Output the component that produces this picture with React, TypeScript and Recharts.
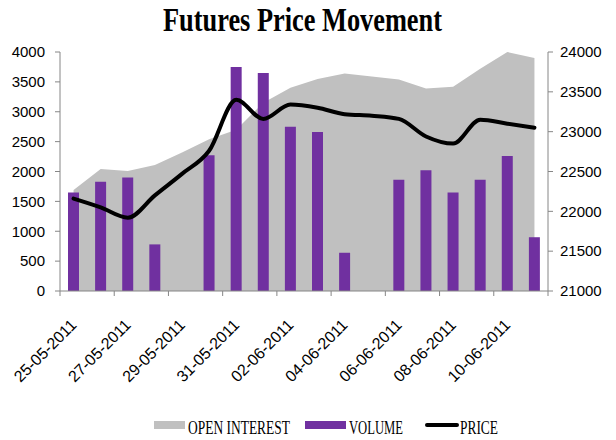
import React from 'react';
import { ComposedChart, Area, Bar, Line, XAxis, YAxis } from 'recharts';

const dates = [
  '25-05-2011', '26-05-2011', '27-05-2011', '28-05-2011', '29-05-2011', '30-05-2011',
  '31-05-2011', '01-06-2011', '02-06-2011', '03-06-2011', '04-06-2011', '05-06-2011',
  '06-06-2011', '07-06-2011', '08-06-2011', '09-06-2011', '10-06-2011', '11-06-2011',
];
const volume = [1650, 1830, 1900, 780, null, 2270, 3750, 3650, 2750, 2660, 640, null, 1860, 2020, 1650, 1860, 2260, 900];
const openInterest = [1690, 2040, 2010, 2110, 2320, 2540, 2700, 3150, 3400, 3550, 3640, 3590, 3540, 3390, 3420, 3720, 4000, 3900];
const price = [22160, 22050, 21920, 22200, 22470, 22760, 23400, 23160, 23340, 23300, 23220, 23200, 23160, 22940, 22850, 23150, 23100, 23050];

const leftTicks = [0, 500, 1000, 1500, 2000, 2500, 3000, 3500, 4000];
const rightTicks = [21000, 21500, 22000, 22500, 23000, 23500, 24000];

const data = dates.map((d, i) => ({
  date: d,
  volume: volume[i],
  oi: openInterest[i],
  price: price[i],
}));

const W = 616;
const H = 440;
const PLOT_W = 488;
const BAND = PLOT_W / dates.length;
const AXIS_COLOR = '#868686';
const TICK_FONT = '"Liberation Sans", Arial, sans-serif';
const SERIF = '"Liberation Serif", "Times New Roman", serif';

const DateTick = (props: any) => {
  const { x, y, payload, index } = props;
  const isLast = payload.index === dates.length - 2 || index === Math.floor((dates.length - 1) / 2);
  return (
    <g>
      <line x1={x - BAND / 2} y1={y} x2={x - BAND / 2} y2={y + 5} stroke={AXIS_COLOR} strokeWidth={1} />
      {isLast && (
        <line x1={x + BAND * 1.5} y1={y} x2={x + BAND * 1.5} y2={y + 5} stroke={AXIS_COLOR} strokeWidth={1} />
      )}
      <text
        x={0}
        y={0}
        transform={`translate(${x + 4},${y + 35}) rotate(-45)`}
        textAnchor="end"
        fontFamily={TICK_FONT}
        fontSize={16}
        fill="#000"
      >
        {payload.value}
      </text>
    </g>
  );
};

export default function App() {
  return (
    <div style={{ position: 'absolute', left: 0, top: 0, width: W, height: H, background: '#fff' }}>
      <ComposedChart
        width={W}
        height={H}
        data={data}
        margin={{ top: 52, right: 0, bottom: 49, left: 0 }}
      >
        <XAxis
          dataKey="date"
          interval={1}
          tickLine={false}
          tickSize={0}
          tickMargin={0}
          axisLine={{ stroke: AXIS_COLOR }}
          tick={<DateTick />}
          height={100}
        />
        <YAxis
          yAxisId="left"
          orientation="left"
          domain={[0, 4000]}
          ticks={leftTicks}
          interval={0}
          width={60}
          tickSize={5}
          tickMargin={10}
          axisLine={{ stroke: AXIS_COLOR }}
          tickLine={{ stroke: AXIS_COLOR }}
          tick={{ fill: '#000', fontSize: 15, fontFamily: TICK_FONT }}
          allowDataOverflow
        />
        <YAxis
          yAxisId="right"
          orientation="right"
          domain={[21000, 24000]}
          ticks={rightTicks}
          interval={0}
          width={68}
          tickSize={5}
          tickMargin={7}
          axisLine={{ stroke: AXIS_COLOR }}
          tickLine={{ stroke: AXIS_COLOR }}
          tick={{ fill: '#000', fontSize: 15, fontFamily: TICK_FONT, textAnchor: 'start' }}
          allowDataOverflow
        />
        <Area
          yAxisId="left"
          dataKey="oi"
          type="linear"
          fill="#C0C0C0"
          fillOpacity={1}
          stroke="none"
          isAnimationActive={false}
        />
        <Bar yAxisId="left" dataKey="volume" fill="#7030A0" barSize={11} isAnimationActive={false} />
        <Line
          yAxisId="right"
          dataKey="price"
          type="monotone"
          stroke="#000"
          strokeWidth={4}
          dot={false}
          strokeLinecap="round"
          isAnimationActive={false}
        />
      </ComposedChart>
      <svg width={W} height={H} style={{ position: 'absolute', left: 0, top: 0, pointerEvents: 'none' }}>
        <text
          x={163}
          y={31}
          fontFamily={SERIF}
          fontWeight="bold"
          fontSize={34}
          textLength={279}
          lengthAdjust="spacingAndGlyphs"
          fill="#000"
        >
          Futures Price Movement
        </text>
        <rect x={154} y={421} width={31} height={8} fill="#C0C0C0" />
        <text x={188} y={434} fontFamily={SERIF} fontSize={18} textLength={102} lengthAdjust="spacingAndGlyphs" fill="#000">
          OPEN INTEREST
        </text>
        <rect x={305} y={421} width={41} height={8} fill="#7030A0" />
        <text x={349} y={434} fontFamily={SERIF} fontSize={18} textLength={54} lengthAdjust="spacingAndGlyphs" fill="#000">
          VOLUME
        </text>
        <line x1={427} y1={425} x2={457} y2={425} stroke="#000" strokeWidth={4} strokeLinecap="round" />
        <text x={460} y={434} fontFamily={SERIF} fontSize={18} textLength={38} lengthAdjust="spacingAndGlyphs" fill="#000">
          PRICE
        </text>
      </svg>
    </div>
  );
}
